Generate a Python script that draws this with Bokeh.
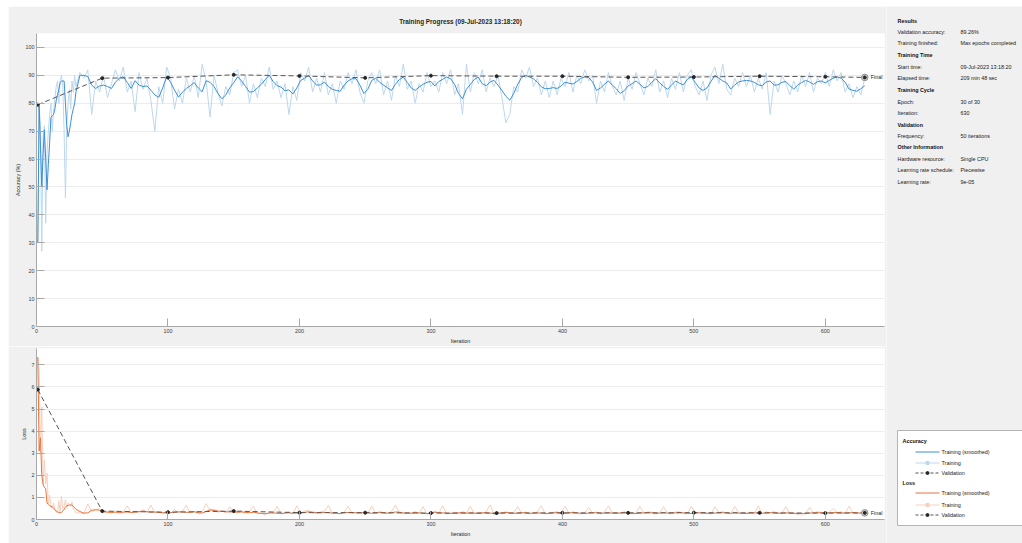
from bokeh.plotting import figure
from bokeh.models import Range1d, FixedTicker, Spacer
from bokeh.layouts import row, column
from bokeh.embed import file_html
from bokeh.resources import INLINE
from bokeh.core.properties import value

FONT = "Liberation Sans"

# ---------------- data ----------------
iter_early = list(range(1, 31))
iter_late = list(range(33, 631, 3))
iterations = iter_early + iter_late

acc_smooth_early = [30, 79, 65, 50, 62, 70.5, 60, 49, 58, 66,
                    75, 75.5, 76, 78, 81, 83, 85, 87.5, 88, 88,
                    88, 80, 72, 68, 70, 73, 76, 78, 80, 84]
acc_smooth_late = [
    90, 90, 89.6, 86.5, 85.3, 86.2, 86.5, 86, 85.3, 87.5,
    89, 89.5, 87.5, 85.3, 88.1, 86.5, 86, 86.2, 84.7, 83,
    82.1, 85.5, 89.5, 87.5, 84.7, 82.2, 84, 85.3, 86.3, 87.4,
    85.5, 84.1, 88.1, 87.5, 86, 83.5, 81.6, 83, 85.5, 87.4,
    89.5, 88, 86, 84, 84.2, 85.5, 86.8, 88.5, 90, 87.8,
    86.3, 85.8, 84.5, 84.8, 83.3, 85.5, 88.2, 89, 90, 88,
    86.5, 86.6, 87.6, 86, 85, 84.6, 84.3, 86.5, 88, 88.8,
    88.8, 86.5, 83.5, 85, 88.2, 89, 87.5, 86.5, 85.5, 84.6,
    86.8, 88.5, 89.4, 87.5, 85.5, 84.6, 85.8, 86.8, 87.5, 87.8,
    86.2, 87.8, 88.6, 89.4, 88.8, 86.8, 83.5, 81.6, 85, 86.8,
    88.5, 89.4, 87, 86.3, 87.6, 88.2, 86.5, 84.6, 82.5, 81.1,
    83.5, 86.8, 89.2, 90, 89.4, 88.8, 87.5, 85.9, 85.2, 85.3,
    85.6, 85.3, 86.2, 87.5, 87.2, 86.9, 87.8, 89, 89.4, 89.2,
    87.6, 84.6, 85.5, 86.8, 88, 86.5, 85.2, 83.5, 84.5, 86.2,
    87, 88, 86.8, 85.5, 86, 87.5, 88.8, 87.3, 86, 85,
    86.5, 88, 87.2, 86.6, 88.5, 89.5, 87.5, 85.5, 84.6, 85.5,
    87.8, 90, 89, 88, 87.3, 85.1, 86.5, 87.6, 88, 88.2,
    88, 87.5, 86.6, 86.3, 87.6, 88, 86.5, 86.6, 87.5, 87.8,
    86.3, 85.1, 86.5, 87.4, 88.2, 87.6, 86.8, 87.7, 88, 87.3,
    88.2, 89, 89.4, 89, 87.6, 85.1, 84.6, 84.3, 85.2, 86.3]

acc_raw_early = [30, 79, 72, 27, 68, 72, 37, 62, 70, 76,
                 80, 70, 77, 82, 86, 88, 80, 88, 90, 86,
                 70, 46, 72, 80, 85, 78, 88, 84, 90, 86]
acc_raw_late = [
    91, 89, 92, 76, 88, 84, 90, 82, 87, 92,
    88, 93, 84, 88, 77, 91, 85, 89, 81, 70,
    86, 80, 93, 89, 78, 85, 80, 89, 84, 90,
    82, 94, 88, 75, 90, 84, 79, 86, 83, 91,
    92, 86, 90, 80, 87, 82, 89, 86, 93, 85,
    88, 82, 87, 76, 86, 81, 91, 88, 93, 84,
    89, 84, 91, 83, 87, 80, 88, 85, 91, 87,
    92, 84, 80, 88, 91, 87, 92, 83, 88, 81,
    90, 86, 94, 85, 88, 80, 87, 84, 91, 86,
    88, 84, 91, 87, 92, 83, 87, 76, 94, 84,
    91, 87, 92, 84, 89, 86, 90, 82, 73, 76,
    86, 84, 92, 89, 93, 86, 89, 83, 88, 82,
    88, 83, 89, 86, 91, 84, 90, 87, 92, 88,
    90, 80, 88, 84, 91, 86, 83, 88, 81, 89,
    85, 91, 87, 83, 89, 86, 92, 84, 88, 82,
    89, 85, 91, 84, 90, 92, 86, 83, 88, 81,
    90, 93, 87, 94, 85, 83, 89, 86, 91, 86,
    90, 84, 89, 85, 91, 76, 88, 84, 90, 87,
    83, 88, 84, 90, 86, 91, 84, 89, 87, 91,
    86, 92, 88, 91, 84, 87, 82, 86, 83, 89]

loss_smooth_early = [7.35, 3.1, 3.7, 2.0, 1.6, 1.45, 1.4, 0.75, 0.68, 0.62,
                     0.6, 0.57, 0.52, 0.45, 0.38, 0.34, 0.32, 0.3, 0.31, 0.38,
                     0.46, 0.56, 0.62, 0.64, 0.65, 0.66, 0.65, 0.6, 0.53, 0.46]
loss_smooth_late = [
    0.36, 0.29, 0.3, 0.42, 0.44, 0.42, 0.36, 0.33, 0.32, 0.33,
    0.32, 0.33, 0.34, 0.32, 0.33, 0.36, 0.38, 0.35, 0.33, 0.34,
    0.32, 0.31, 0.3, 0.31, 0.33, 0.35, 0.34, 0.32, 0.33, 0.35,
    0.31, 0.29, 0.36, 0.44, 0.41, 0.38, 0.37, 0.35, 0.34, 0.35,
    0.33, 0.34, 0.32, 0.31, 0.33, 0.3, 0.27, 0.26, 0.29, 0.3,
    0.28, 0.27, 0.29, 0.3, 0.28, 0.29, 0.3, 0.32, 0.35, 0.33,
    0.31, 0.3, 0.32, 0.31, 0.29, 0.28, 0.27, 0.3, 0.32, 0.31,
    0.3, 0.29, 0.31, 0.3, 0.28, 0.29, 0.32, 0.3, 0.29, 0.3,
    0.34, 0.33, 0.3, 0.28, 0.29, 0.31, 0.3, 0.28, 0.27, 0.29,
    0.33, 0.31, 0.3, 0.28, 0.27, 0.29, 0.3, 0.31, 0.29, 0.3,
    0.29, 0.28, 0.3, 0.31, 0.29, 0.27, 0.28, 0.3, 0.32, 0.3,
    0.28, 0.29, 0.31, 0.3, 0.28, 0.29, 0.3, 0.29, 0.27, 0.28,
    0.3, 0.31, 0.29, 0.28, 0.3, 0.31, 0.3, 0.28, 0.27, 0.29,
    0.31, 0.3, 0.28, 0.29, 0.3, 0.29, 0.28, 0.3, 0.31, 0.3,
    0.28, 0.27, 0.29, 0.3, 0.31, 0.3, 0.28, 0.29, 0.3, 0.29,
    0.28, 0.3, 0.31, 0.3, 0.28, 0.27, 0.29, 0.3, 0.29, 0.28,
    0.27, 0.29, 0.3, 0.31, 0.29, 0.28, 0.3, 0.29, 0.28, 0.27,
    0.29, 0.3, 0.29, 0.28, 0.3, 0.31, 0.3, 0.29, 0.28, 0.3,
    0.29, 0.28, 0.27, 0.26, 0.27, 0.29, 0.3, 0.31, 0.3, 0.29,
    0.3, 0.31, 0.32, 0.3, 0.29, 0.3, 0.31, 0.3, 0.29, 0.3]

loss_raw_early = [7.35, 6.8, 3.0, 5.1, 1.6, 2.7, 1.6, 2.1, 0.7, 1.1,
                  0.6, 0.5, 0.75, 0.4, 0.35, 0.3, 0.85, 0.3, 1.05, 0.5,
                  0.6, 0.9, 0.55, 0.75, 0.7, 0.6, 0.8, 0.45, 0.4, 0.3]
loss_raw_late = [
    0.3, 0.25, 0.7, 0.35, 0.45, 0.5, 0.3, 0.36, 0.28, 0.4,
    0.27, 0.35, 0.62, 0.3, 0.38, 0.28, 0.45, 0.32, 0.65, 0.3,
    0.35, 0.26, 0.32, 0.28, 0.45, 0.3, 0.38, 0.65, 0.28, 0.36,
    0.25, 0.34, 0.72, 0.4, 0.48, 0.32, 0.4, 0.3, 0.58, 0.33,
    0.3, 0.4, 0.26, 0.35, 0.6, 0.25, 0.3, 0.22, 0.35, 0.28,
    0.6, 0.24, 0.3, 0.35, 0.25, 0.62, 0.28, 0.38, 0.42, 0.3,
    0.27, 0.35, 0.38, 0.64, 0.25, 0.3, 0.24, 0.33, 0.6, 0.28,
    0.33, 0.26, 0.35, 0.28, 0.6, 0.25, 0.38, 0.3, 0.27, 0.35,
    0.65, 0.3, 0.26, 0.32, 0.25, 0.36, 0.28, 0.58, 0.24, 0.31,
    0.38, 0.28, 0.62, 0.25, 0.3, 0.33, 0.26, 0.36, 0.27, 0.6,
    0.25, 0.32, 0.28, 0.35, 0.66, 0.22, 0.3, 0.28, 0.36, 0.27,
    0.3, 0.58, 0.28, 0.34, 0.25, 0.3, 0.35, 0.62, 0.24, 0.3,
    0.32, 0.36, 0.26, 0.6, 0.28, 0.35, 0.3, 0.25, 0.3, 0.55,
    0.28, 0.34, 0.25, 0.32, 0.62, 0.27, 0.3, 0.26, 0.36, 0.3,
    0.25, 0.3, 0.6, 0.27, 0.35, 0.32, 0.24, 0.3, 0.58, 0.28,
    0.26, 0.34, 0.35, 0.28, 0.25, 0.6, 0.3, 0.33, 0.26, 0.3,
    0.24, 0.58, 0.32, 0.36, 0.28, 0.25, 0.6, 0.3, 0.26, 0.3,
    0.33, 0.28, 0.62, 0.25, 0.35, 0.3, 0.36, 0.27, 0.3, 0.58,
    0.26, 0.3, 0.22, 0.3, 0.25, 0.55, 0.28, 0.36, 0.32, 0.27,
    0.33, 0.5, 0.3, 0.35, 0.27, 0.6, 0.3, 0.28, 0.3, 0.32]

acc_smooth = acc_smooth_early + acc_smooth_late
acc_raw = acc_raw_early + acc_raw_late
loss_smooth = loss_smooth_early + loss_smooth_late
loss_raw = loss_raw_early + loss_raw_late

val_iters = [1, 50, 100, 150, 200, 250, 300, 350, 400, 450, 500, 550, 600, 630]
val_acc = [79.5, 89.0, 89.2, 90.2, 89.8, 89.1, 89.9, 89.7, 89.7, 89.3, 89.4, 89.7, 89.5, 89.26]
val_loss = [5.88, 0.38, 0.33, 0.38, 0.31, 0.31, 0.29, 0.29, 0.30, 0.30, 0.31, 0.30, 0.29, 0.30]

x_ticks = [0, 100, 200, 300, 400, 500, 600]
acc_ticks = [0, 10, 20, 30, 40, 50, 60, 70, 80, 90, 100]
loss_ticks = [0, 1, 2, 3, 4, 5, 6, 7]

title_text = "Training Progress (09-Jul-2023 13:18:20)"
info_headers = ["Results", "Training Time", "Training Cycle", "Validation", "Other Information"]
info_labels = ["Validation accuracy:", "Training finished:", "Start time:", "Elapsed time:",
               "Epoch:", "Iteration:", "Frequency:", "Hardware resource:",
               "Learning rate schedule:", "Learning rate:"]
info_values = ["89.26%", "Max epochs completed", "09-Jul-2023 13:18:20", "209 min 48 sec",
               "30 of 30", "630", "50 iterations", "Single CPU", "Piecewise", "9e-05"]
legend_groups = ["Accuracy", "Loss"]
legend_names = ["Training (smoothed)", "Training", "Validation"]

# ---------------- style ----------------
GRAY_BG = "#f0f0f0"
AXIS_C = "#a8a8a8"
TXT = "#262626"
FS = "5.4px"
ACC_SM = "#3b8fd3"
ACC_RAW = "#bdd7ee"
LOSS_SM = "#e6743f"
LOSS_RAW = "#f7d0bd"
VAL_C = "#555555"


def style(p, yticks, ylabel):
    p.xaxis.ticker = FixedTicker(ticks=x_ticks)
    p.yaxis.ticker = FixedTicker(ticks=yticks)
    p.xaxis.axis_label = "Iteration"
    p.yaxis.axis_label = ylabel
    for ax in (p.xaxis[0], p.yaxis[0]):
        ax.axis_line_color = AXIS_C
        ax.major_tick_line_color = AXIS_C
        ax.major_tick_in = 8
        ax.major_tick_out = 0
        ax.minor_tick_line_color = None
        ax.major_label_text_font = FONT
        ax.major_label_text_font_size = FS
        ax.major_label_text_color = "#404040"
        ax.axis_label_text_font = FONT
        ax.axis_label_text_font_size = FS
        ax.axis_label_text_font_style = "normal"
        ax.axis_label_text_color = TXT
        ax.major_label_standoff = 2
        ax.axis_label_standoff = 2
    p.xgrid.grid_line_color = None
    p.ygrid.grid_line_color = "#ececec"
    p.outline_line_color = None
    p.background_fill_color = "white"
    p.border_fill_color = GRAY_BG


def add_val(p, yvals):
    p.line(val_iters, yvals, line_color=VAL_C, line_width=1, line_dash="5 3")
    p.scatter(val_iters[-1:], yvals[-1:], marker="circle", size=6.5,
              fill_color="#d6d6d6", line_color="#8a8a8a", line_width=1)
    p.scatter(val_iters, yvals, marker="circle", size=3, fill_color="#262626", line_color="#262626")
    p.text(val_iters[-1:], yvals[-1:], text=["Final"], x_offset=6, text_baseline="middle",
           text_font=value(FONT), text_font_size=FS, text_color=TXT)


# ---------------- accuracy ----------------
p1 = figure(width=878, height=340, x_range=Range1d(0, 645), y_range=Range1d(0, 105),
            output_backend="svg", toolbar_location=None,
            min_border_left=28, min_border_right=2, min_border_top=27, min_border_bottom=18,
            title=title_text)
p1.title.align = "center"
p1.title.offset = -15
p1.title.text_font = FONT
p1.title.text_font_size = "6.4px"
p1.title.text_font_style = "bold"
p1.title.text_color = TXT
p1.title.standoff = 18
style(p1, acc_ticks, "Accuracy (%)")

p1.line(iterations, acc_raw, line_color=ACC_RAW, line_width=1)
p1.line(iterations, acc_smooth, line_color=ACC_SM, line_width=1)
add_val(p1, val_acc)

# ---------------- loss ----------------
p2 = figure(width=878, height=197, x_range=Range1d(0, 645), y_range=Range1d(0, 7.74),
            output_backend="svg", toolbar_location=None,
            min_border_left=23, min_border_right=2, min_border_top=2, min_border_bottom=24)
style(p2, loss_ticks, "Loss")

p2.line(iterations, loss_raw, line_color=LOSS_RAW, line_width=1)
p2.line(iterations, loss_smooth, line_color=LOSS_SM, line_width=1)
add_val(p2, val_loss)

# ---------------- info panel ----------------
PW, PH = 136, 537
p3 = figure(width=PW, height=PH, x_range=Range1d(0, PW), y_range=Range1d(PH, 0),
            output_backend="svg", toolbar_location=None, min_border=0,
            x_axis_type=None, y_axis_type=None)
p3.grid.visible = False
p3.outline_line_color = None
p3.background_fill_color = GRAY_BG
p3.border_fill_color = GRAY_BG

head_y = [14.7, 48.3, 83.3, 118, 140.7]
row_y = [25.7, 36.7, 60.7, 71.7, 95, 106.3, 129.3, 152.3, 163.3, 175]
p3.text([11] * len(info_headers), head_y, text=info_headers, text_baseline="middle",
        text_font=value(FONT), text_font_size=FS, text_font_style="bold", text_color="#111111")
p3.text([11] * len(info_labels), row_y, text=info_labels, text_baseline="middle",
        text_font=value(FONT), text_font_size=FS, text_color="#1a1a1a")
p3.text([74] * len(info_values), row_y, text=info_values, text_baseline="middle",
        text_font=value(FONT), text_font_size=FS, text_color="#1a1a1a")

# legend box
p3.quad(left=[11], right=[150], top=[424], bottom=[519], fill_color="white",
        line_color="#b4b4b4", line_width=1)
grp_y = [434, 476.3]
p3.text([16, 16], grp_y, text=legend_groups, text_baseline="middle",
        text_font=value(FONT), text_font_size=FS, text_font_style="bold", text_color="#111111")
ent_y = [445.5, 456.5, 466.5, 486.5, 498.5, 508.5]
ent_txt = legend_names + legend_names
p3.text([55] * 6, ent_y, text=ent_txt, text_baseline="middle",
        text_font=value(FONT), text_font_size=FS, text_color="#1a1a1a")
cols = [ACC_SM, ACC_RAW, VAL_C, LOSS_SM, LOSS_RAW, VAL_C]
for i, (yy, c) in enumerate(zip(ent_y, cols)):
    dash = "3 2" if i % 3 == 2 else "solid"
    p3.line([29, 53], [yy, yy], line_color=c, line_width=1, line_dash=dash)
    if i % 3 == 1:
        p3.scatter([41], [yy], marker="square", size=3, fill_color=c, line_color=c)
    if i % 3 == 2:
        p3.scatter([41], [yy], marker="circle", size=3, fill_color="#262626", line_color="#262626")

layout = column(Spacer(height=6),
                row(Spacer(width=8), column(p1, p2), p3))
open("out.html", "w").write(file_html(layout, INLINE))
